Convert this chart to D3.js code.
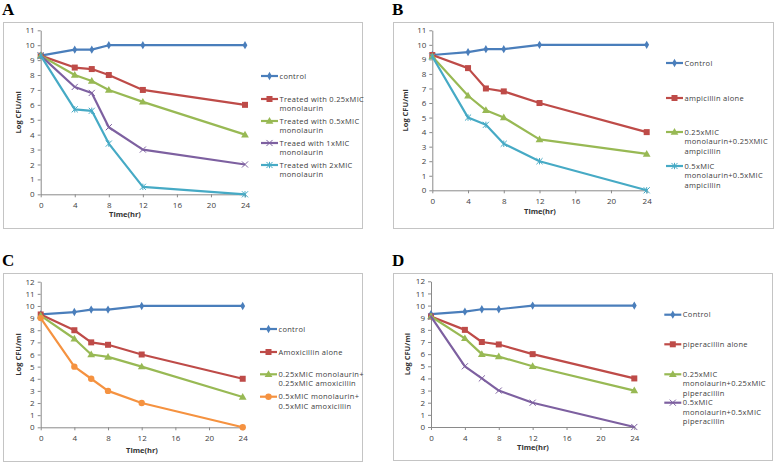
<!DOCTYPE html>
<html>
<head>
<meta charset="utf-8">
<script src="https://cdn.jsdelivr.net/npm/d3@7"></script>
<style>
  body { margin: 0; background: #fff; }
  text { font-family: "Open Sans", "DejaVu Sans", sans-serif; }
</style>
</head>
<body>
<svg id="chart" width="777" height="464"></svg>
<script>
// time points (hours)
const timeHours = [0, 4, 6, 8, 12, 24];
const xTicks = [0, 4, 8, 12, 16, 20, 24];

// panel A
const aControl = [9.3, 9.7, 9.7, 10, 10, 10];
const aQuarterMono = [9.3, 8.5, 8.4, 8.0, 7.0, 6.0];
const aHalfMono = [9.3, 8.0, 7.6, 7.0, 6.2, 4.0];
const aOneMono = [9.3, 7.2, 6.8, 4.5, 3.0, 2.0];
const aTwoMono = [9.3, 5.7, 5.6, 3.4, 0.5, 0];

// panel B
const bControl = [9.3, 9.5, 9.7, 9.7, 10, 10];
const bAmpAlone = [9.3, 8.4, 7.0, 6.8, 6.0, 4.0];
const bQuarterCombo = [9.2, 6.5, 5.5, 5.0, 3.5, 2.5];
const bHalfCombo = [9.2, 5.0, 4.5, 3.2, 2.0, 0];

// panel C
const cControl = [9.3, 9.5, 9.7, 9.7, 10, 10];
const cAmoxAlone = [9.3, 8.0, 7.0, 6.8, 6.0, 4.0];
const cQuarterCombo = [9.2, 7.3, 6.0, 5.8, 5.0, 2.5];
const cHalfCombo = [9.0, 5.0, 4.0, 3.0, 2.0, 0];

// panel D
const dControl = [9.3, 9.5, 9.7, 9.7, 10, 10];
const dPipAlone = [9.1, 8.0, 7.0, 6.8, 6.0, 4.0];
const dQuarterCombo = [9.1, 7.3, 6.0, 5.8, 5.0, 3.0];
const dHalfCombo = [9.1, 5.0, 4.0, 3.0, 2.0, 0];

const colors = {
  blue: "#4a7ebb", red: "#be4b48", green: "#98b954",
  purple: "#7d60a0", cyan: "#46aac5", orange: "#f59240"
};

const panels = [
  {
    label: "A", yMax: 11,
    frame: [3, 22, 362, 228], plot: [40.7, 30.3, 245, 194.3],
    titleX: 125, titleY: 217, yTitleX: 18,
    legendX: 261,
    series: [
      { values: aControl, color: colors.blue, marker: "diamond", name: ["control"], ly: 76 },
      { values: aQuarterMono, color: colors.red, marker: "square", name: ["Treated with 0.25xMIC", "monolaurin"], ly: 99 },
      { values: aHalfMono, color: colors.green, marker: "triangle", name: ["Treated with 0.5xMIC", "monolaurin"], ly: 121 },
      { values: aOneMono, color: colors.purple, marker: "x", name: ["Treaed with 1xMIC", "monolaurin"], ly: 143 },
      { values: aTwoMono, color: colors.cyan, marker: "star", name: ["Treated with 2xMIC", "monolaurin"], ly: 165 }
    ]
  },
  {
    label: "B", yMax: 11,
    frame: [393, 22, 773, 228], plot: [432.3, 30.3, 646.7, 190.3],
    titleX: 540, titleY: 214, yTitleX: 405,
    legendX: 666,
    series: [
      { values: bControl, color: colors.blue, marker: "diamond", name: ["Control"], ly: 63 },
      { values: bAmpAlone, color: colors.red, marker: "square", name: ["ampicillin alone"], ly: 98 },
      { values: bQuarterCombo, color: colors.green, marker: "triangle", name: ["0.25xMIC", "monolaurin+0.25XMIC", "ampicillin"], ly: 132 },
      { values: bHalfCombo, color: colors.cyan, marker: "star", name: ["0.5xMIC", "monolaurin+0.5xMIC", "ampicillin"], ly: 166 }
    ]
  },
  {
    label: "C", yMax: 12,
    frame: [3, 273, 362, 461], plot: [40.7, 281.7, 242.7, 427.3],
    titleX: 142, titleY: 453, yTitleX: 18,
    legendX: 260,
    series: [
      { values: cControl, color: colors.blue, marker: "diamond", name: ["control"], ly: 329 },
      { values: cAmoxAlone, color: colors.red, marker: "square", name: ["Amoxicillin alone"], ly: 352 },
      { values: cQuarterCombo, color: colors.green, marker: "triangle", name: ["0.25xMIC monolaurin+", "0.25xMIC amoxicillin"], ly: 374.3 },
      { values: cHalfCombo, color: colors.orange, marker: "circle", name: ["0.5xMIC monolaurin+", "0.5xMIC amoxicillin"], ly: 396.7 }
    ]
  },
  {
    label: "D", yMax: 12,
    frame: [393, 273, 772, 460], plot: [431, 281.3, 634.3, 427],
    titleX: 533, titleY: 450, yTitleX: 407,
    legendX: 664.3,
    series: [
      { values: dControl, color: colors.blue, marker: "diamond", name: ["Control"], ly: 314.7 },
      { values: dPipAlone, color: colors.red, marker: "square", name: ["piperacillin alone"], ly: 344.3 },
      { values: dQuarterCombo, color: colors.green, marker: "triangle", name: ["0.25xMIC", "monolaurin+0.25xMIC", "piperacillin"], ly: 374.3 },
      { values: dHalfCombo, color: colors.purple, marker: "x", name: ["0.5xMIC", "monolaurin+0.5xMIC", "piperacillin"], ly: 402.7 }
    ]
  }
];

const svg = d3.select("#chart");
const lineGap = 9.5;

function drawMarker(g, type, x, y, color) {
  if (type === "diamond") {
    g.append("path").attr("d", d3.symbol(d3.symbolDiamond, 20)())
      .attr("transform", `translate(${x},${y})`).attr("fill", color);
  } else if (type === "square") {
    g.append("rect").attr("x", x - 3).attr("y", y - 3)
      .attr("width", 6).attr("height", 6).attr("fill", color);
  } else if (type === "triangle") {
    g.append("path").attr("d", d3.symbol(d3.symbolTriangle, 26)())
      .attr("transform", `translate(${x},${y + 0.5})`).attr("fill", color);
  } else if (type === "circle") {
    g.append("circle").attr("cx", x).attr("cy", y).attr("r", 3.2).attr("fill", color);
  } else if (type === "x") {
    g.append("path").attr("d", d3.symbol(d3.symbolTimes, 26)())
      .attr("transform", `translate(${x},${y})`)
      .attr("fill", "none").attr("stroke", color).attr("stroke-width", 1);
  } else if (type === "star") {
    g.append("path").attr("d", d3.symbol(d3.symbolTimes, 26)())
      .attr("transform", `translate(${x},${y})`)
      .attr("fill", "none").attr("stroke", color).attr("stroke-width", 1);
    g.append("line").attr("x1", x).attr("x2", x).attr("y1", y - 3.2).attr("y2", y + 3.2)
      .attr("stroke", color).attr("stroke-width", 1);
  }
}

panels.forEach(p => {
  const g = svg.append("g");
  const [fx0, fy0, fx1, fy1] = p.frame;
  const [px0, py0, px1, py1] = p.plot;

  g.append("text")
    .attr("x", fx0 - 1).attr("y", fy0 - 7)
    .attr("style", "font-family: 'Liberation Serif', 'DejaVu Serif', serif; font-size: 17px; font-weight: bold")
    .text(p.label);

  g.append("rect")
    .attr("x", fx0 + 0.5).attr("y", fy0 + 0.5)
    .attr("width", fx1 - fx0).attr("height", fy1 - fy0)
    .attr("fill", "#fff").attr("stroke", "#c4c4c4").attr("stroke-width", 1);

  const x = d3.scaleLinear().domain([0, 24]).range([px0, px1]);
  const y = d3.scaleLinear().domain([0, p.yMax]).range([py1, py0]);

  const xAxis = g.append("g")
    .attr("transform", `translate(0,${py1})`)
    .call(d3.axisBottom(x).tickValues(xTicks).tickSize(3).tickSizeOuter(0).tickFormat(d3.format("d")));
  const yAxis = g.append("g")
    .attr("transform", `translate(${px0},0)`)
    .call(d3.axisLeft(y).ticks(p.yMax).tickSize(3).tickSizeOuter(0));
  [xAxis, yAxis].forEach(a => {
    a.select(".domain").attr("stroke", "#8a8a8a");
    a.selectAll(".tick line").attr("stroke", "#8a8a8a");
    a.selectAll(".tick text").attr("fill", "#404040")
      .attr("style", "font-size: 8px; font-family: 'Open Sans', sans-serif");
  });
  xAxis.selectAll(".tick text").attr("dy", "0.95em");

  g.append("text")
    .attr("x", p.titleX).attr("y", p.titleY)
    .attr("text-anchor", "middle")
    .attr("style", "font-size: 7.5px; font-weight: bold")
    .attr("fill", "#333")
    .text("Time(hr)");

  g.append("text")
    .attr("transform", `translate(${p.yTitleX},${(py0 + py1) / 2}) rotate(-90)`)
    .attr("text-anchor", "middle")
    .attr("dy", "0.35em")
    .attr("style", "font-size: 7.5px; font-weight: bold")
    .attr("fill", "#333")
    .text("Log CFU/ml");

  const line = d3.line()
    .x((d, i) => x(timeHours[i]))
    .y(d => y(d));

  p.series.forEach(s => {
    g.append("path")
      .datum(s.values)
      .attr("d", line)
      .attr("fill", "none")
      .attr("stroke", s.color)
      .attr("stroke-width", 2.2)
      .attr("stroke-linejoin", "round");
    s.values.forEach((v, i) => drawMarker(g, s.marker, x(timeHours[i]), y(v), s.color));

    // legend entry
    const lx = p.legendX;
    g.append("line")
      .attr("x1", lx).attr("x2", lx + 17)
      .attr("y1", s.ly).attr("y2", s.ly)
      .attr("stroke", s.color).attr("stroke-width", 2.2);
    drawMarker(g, s.marker, lx + 8.5, s.ly, s.color);
    const t = g.append("text")
      .attr("x", lx + 18.5).attr("y", s.ly)
      .attr("fill", "#404040")
      .attr("style", "font-size: 7.5px; letter-spacing: 0.3px");
    s.name.forEach((ln, i) => {
      t.append("tspan")
        .attr("x", lx + 18.5)
        .attr("dy", i === 0 ? "0.35em" : lineGap)
        .text(ln);
    });
  });
});
</script>
</body>
</html>
